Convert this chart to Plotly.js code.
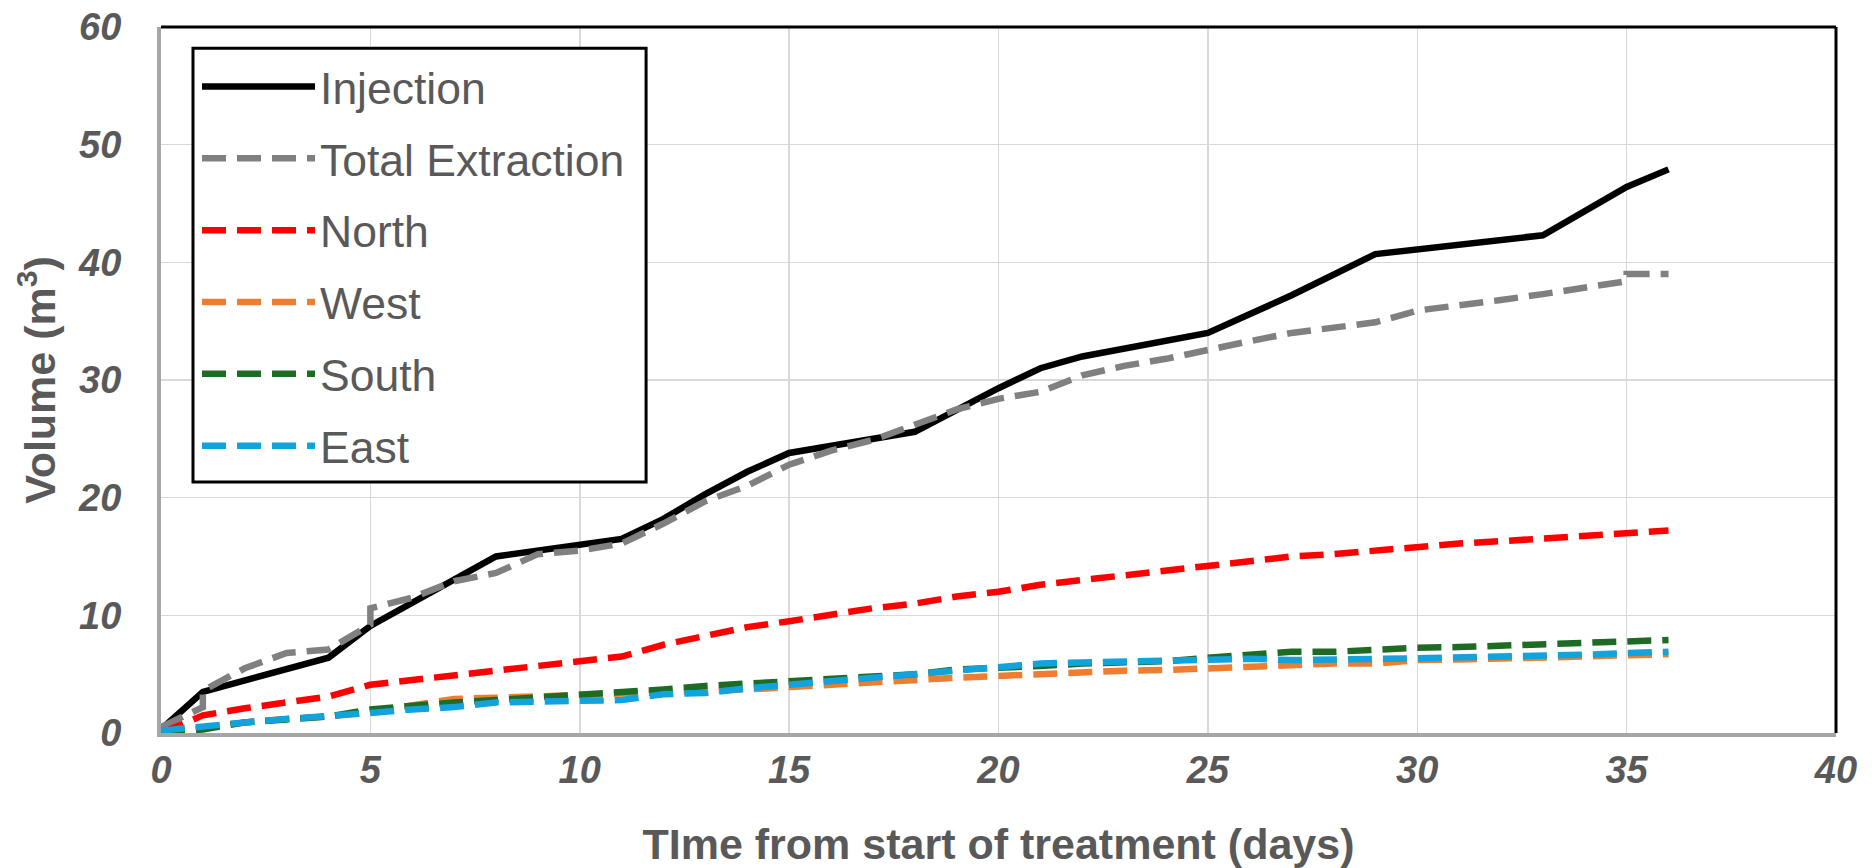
<!DOCTYPE html>
<html>
<head>
<meta charset="utf-8">
<script src="https://cdn.plot.ly/plotly-3.0.1.min.js"></script>
<style>
  html, body { margin: 0; padding: 0; background: #fff; }
  #chart { width: 1872px; height: 868px; }
</style>
</head>
<body>
<div id="chart"></div>
<script>
// ---- Data ----
const injectionDays = [0, 1, 4, 5, 8, 11, 12, 13, 14, 15, 18, 19, 20, 21, 22, 25, 26, 27, 29, 33, 35, 36];
const injection     = [0.3, 3.5, 6.4, 9.1, 15.0, 16.5, 18.2, 20.3, 22.2, 23.8, 25.6, 27.5, 29.3, 31.0, 32.0, 34.0, 35.6, 37.2, 40.7, 42.3, 46.4, 47.9];

const extractionDays  = [0, 1, 1, 2, 3, 4, 5, 5, 6, 7, 8, 9, 10, 11, 12, 13, 14, 15, 16, 17, 18, 19, 20, 21, 22, 23, 24, 25, 26, 27, 28, 29, 30, 31, 32, 33, 34, 35, 35, 36];
const totalExtraction = [0.5, 2.2, 3.6, 5.5, 6.8, 7.1, 9.2, 10.6, 11.5, 12.9, 13.6, 15.2, 15.5, 16.1, 17.8, 19.7, 21.0, 22.8, 24.0, 24.9, 26.2, 27.5, 28.4, 29.0, 30.4, 31.2, 31.8, 32.6, 33.3, 34.0, 34.4, 34.9, 35.9, 36.3, 36.8, 37.3, 37.9, 38.4, 39.0, 39.0];

const wellDays = [0, 1, 2, 3, 4, 5, 6, 7, 8, 9, 10, 11, 12, 13, 14, 15, 16, 17, 18, 19, 20, 21, 22, 23, 24, 25, 26, 27, 28, 29, 30, 31, 32, 33, 34, 35, 36];
const north = [0, 1.5, 2.1, 2.6, 3.1, 4.1, 4.5, 4.9, 5.3, 5.8, 6.2, 6.5, 7.5, 8.3, 9.0, 9.5, 10.1, 10.6, 11.0, 11.6, 12.0, 12.6, 13.0, 13.4, 13.8, 14.2, 14.6, 15.0, 15.2, 15.5, 15.9, 16.1, 16.3, 16.5, 16.8, 17.0, 17.2];
const west  = [0, 0.5, 0.9, 1.2, 1.4, 1.8, 2.4, 2.9, 3.0, 3.1, 3.2, 3.3, 3.4, 3.5, 3.7, 3.9, 4.1, 4.3, 4.6, 4.7, 4.85, 5.0, 5.2, 5.3, 5.35, 5.5, 5.6, 5.8, 5.9, 5.9, 6.2, 6.25, 6.3, 6.45, 6.5, 6.6, 6.7];
const south = [0, 0.3, 0.9, 1.2, 1.4, 2.0, 2.35, 2.6, 2.8, 3.0, 3.2, 3.4, 3.7, 4.0, 4.2, 4.4, 4.6, 4.8, 5.0, 5.4, 5.5, 5.7, 5.9, 6.0, 6.1, 6.4, 6.6, 6.9, 6.9, 7.1, 7.25, 7.3, 7.4, 7.5, 7.65, 7.7, 7.9];
const east  = [0.2, 0.6, 0.9, 1.2, 1.4, 1.7, 2.0, 2.2, 2.6, 2.7, 2.75, 2.8, 3.3, 3.4, 3.8, 4.1, 4.4, 4.7, 5.0, 5.3, 5.6, 5.9, 6.0, 6.1, 6.2, 6.3, 6.3, 6.2, 6.2, 6.3, 6.35, 6.4, 6.45, 6.6, 6.65, 6.8, 6.9];

const seriesNames = ["Injection", "Total Extraction", "North", "West", "South", "East"];
const xTickVals = [0, 5, 10, 15, 20, 25, 30, 35, 40];
const yTickVals = [0, 10, 20, 30, 40, 50, 60];

// ---- Styles ----
const textGray = "#595959";
const dashPattern = "24px,11px";
const styles = [
  { color: "#000000", width: 6.5, dash: "solid" },
  { color: "#808080", width: 6.5, dash: dashPattern },
  { color: "#ff0000", width: 6.5, dash: dashPattern },
  { color: "#ed7d31", width: 6.5, dash: dashPattern },
  { color: "#1e6b24", width: 6.5, dash: dashPattern },
  { color: "#12a2dc", width: 6.5, dash: dashPattern }
];
const xs = [injectionDays, extractionDays, wellDays, wellDays, wellDays, wellDays];
const ys = [injection, totalExtraction, north, west, south, east];

const traces = seriesNames.map((name, i) => ({
  type: "scatter",
  mode: "lines",
  name: name,
  x: xs[i],
  y: ys[i],
  legendgroup: "g" + i,
  line: { color: styles[i].color, width: styles[i].width, dash: styles[i].dash }
}));

const tickFont = { family: "Liberation Sans, Arial, sans-serif", size: 38, color: textGray, weight: "bold", style: "italic" };
const titleFont = { family: "Liberation Sans, Arial, sans-serif", size: 43, color: textGray, weight: "bold" };

const layout = {
  width: 1872,
  height: 868,
  paper_bgcolor: "#ffffff",
  plot_bgcolor: "#ffffff",
  margin: { l: 161, r: 36, t: 27, b: 135, pad: 0 },
  showlegend: true,
  legend: {
    x: 0.0215, y: 0.966, xanchor: "left", yanchor: "top",
    bgcolor: "rgba(0,0,0,0)", borderwidth: 0,
    font: { family: "Liberation Sans, Arial, sans-serif", size: 44.5, color: textGray },
    itemwidth: 113,
    tracegroupgap: 11,
    traceorder: "grouped"
  },
  xaxis: {
    range: [0, 40],
    tickvals: xTickVals,
    ticktext: xTickVals.map(String),
    tickfont: tickFont,
    ticks: "",
    ticklabelstandoff: 0,
    showgrid: true, gridcolor: "#d9d9d9", gridwidth: 1.5,
    zeroline: false,
    showline: true, linecolor: "#a6a6a6", linewidth: 4,
    title: { text: "TIme from start of treatment (days)", font: titleFont, standoff: 42 },
    fixedrange: true
  },
  yaxis: {
    range: [0, 60],
    tickvals: yTickVals,
    ticktext: yTickVals.map(String),
    tickfont: tickFont,
    ticks: "",
    ticklabelstandoff: 28,
    showgrid: true, gridcolor: "#d9d9d9", gridwidth: 1.5,
    zeroline: false,
    showline: true, linecolor: "#a6a6a6", linewidth: 4,
    title: { text: "Volume (m<sup>3</sup>)", font: titleFont, standoff: 10 },
    fixedrange: true
  },
  shapes: [
    // legend frame (opaque white box with black border)
    { type: "rect", xref: "paper", yref: "paper", x0: 0.0191, x1: 0.2896, y0: 0.3555, y1: 0.970,
      fillcolor: "#ffffff", line: { color: "#000000", width: 3 }, layer: "above" },
    // top and right plot frame
    { type: "line", xref: "paper", yref: "paper", x0: 0, x1: 1, y0: 1, y1: 1, line: { color: "#000000", width: 3 } },
    { type: "line", xref: "paper", yref: "paper", x0: 1, x1: 1, y0: 0, y1: 1, line: { color: "#000000", width: 3 } }
  ]
};

Plotly.newPlot("chart", traces, layout, { displayModeBar: false, staticPlot: true });
</script>
</body>
</html>
